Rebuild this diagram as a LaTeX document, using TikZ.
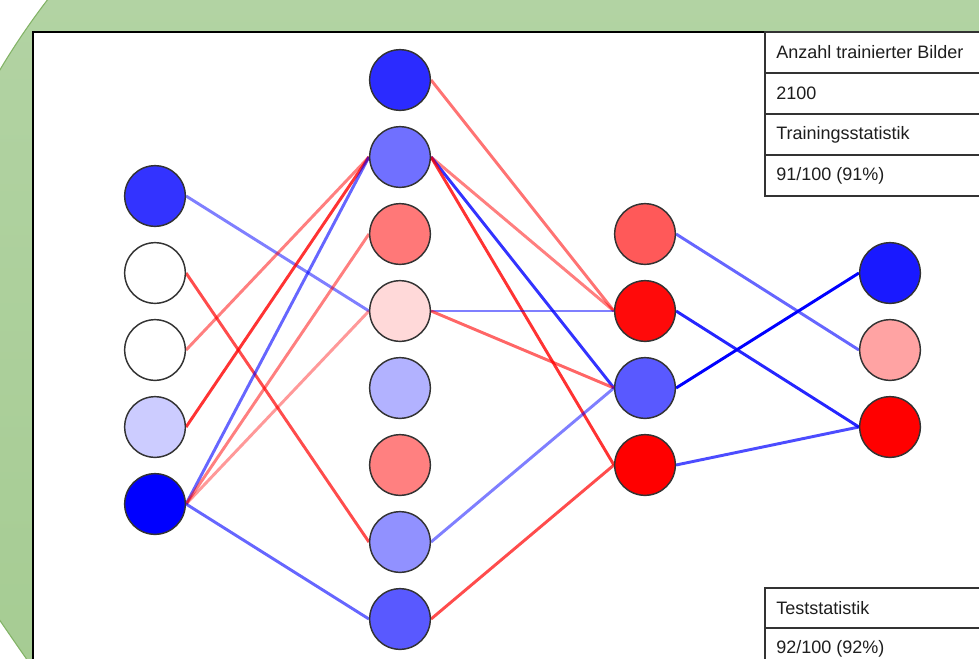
\documentclass[tikz,border=0pt]{standalone}
\usepackage{fontspec}
\newfontfamily\tabfont{Liberation Sans}
\pgfdeclarelayer{bg}
\pgfdeclarelayer{edges}
\pgfsetlayers{bg,edges,main}
\definecolor{greenfill}{HTML}{B2D3A3}
\definecolor{greenfillb}{HTML}{A6CC93}
\definecolor{greenline}{HTML}{82B366}
\definecolor{txt}{HTML}{1E1E1E}
\tikzset{
  neuron/.style={circle, draw=black!80, line width=1.1pt, minimum size=45.5pt, inner sep=0pt},
  wire/.style={line width=2.2pt},
  pos/.style={wire, draw=red, draw opacity=#1},
  neg/.style={wire, draw=blue, draw opacity=#1},
  cell/.style={draw=black!80, line width=1.1pt, fill=white},
  celltext/.style={anchor=west, inner sep=0pt, text=txt, font=\tabfont\fontsize{13.5}{16}\selectfont}
}
\begin{document}
\begin{tikzpicture}[x=0.75pt,y=-0.75pt]
\useasboundingbox (0,0) rectangle (979,658);
\begin{pgfonlayer}{bg}
  \path[draw=greenline, line width=0.8pt, top color=greenfill, bottom color=greenfillb]
    (52,-6) .. controls (30,22) and (10,52) .. (-6,80) -- (-6,612) .. controls (8,632) and (20,650) .. (33,668)
    -- (995,668) -- (995,-6) -- cycle;
  \path[draw=black, line width=1.1pt, fill=white] (33,32) rectangle (1000,700);
\end{pgfonlayer}

% input layer
\node[neuron, fill=blue!80] (i1) at (155,196) {};
\node[neuron, fill=white]   (i2) at (155,273) {};
\node[neuron, fill=white]   (i3) at (155,350) {};
\node[neuron, fill=blue!20] (i4) at (155,427) {};
\node[neuron, fill=blue]    (i5) at (155,504) {};
% hidden 1
\node[neuron, fill=blue!83] (h1) at (400,80) {};
\node[neuron, fill=blue!56] (h2) at (400,157) {};
\node[neuron, fill=red!53]  (h3) at (400,234) {};
\node[neuron, fill=red!15]  (h4) at (400,311) {};
\node[neuron, fill=blue!30] (h5) at (400,388) {};
\node[neuron, fill=red!50]  (h6) at (400,465) {};
\node[neuron, fill=blue!43] (h7) at (400,542) {};
\node[neuron, fill=blue!65] (h8) at (400,619) {};
% hidden 2
\node[neuron, fill=red!65]  (g1) at (645,234) {};
\node[neuron, fill=red!96]  (g2) at (645,311) {};
\node[neuron, fill=blue!65] (g3) at (645,388) {};
\node[neuron, fill=red]     (g4) at (645,465) {};
% output
\node[neuron, fill=blue!90] (o1) at (890,273) {};
\node[neuron, fill=red!36]  (o2) at (890,350) {};
\node[neuron, fill=red]     (o3) at (890,427) {};

\begin{pgfonlayer}{edges}
  \draw[neg=0.5]  (i1.east) -- (h4.west);
  \draw[pos=0.7]  (i2.east) -- (h7.west);
  \draw[pos=0.5]  (i3.east) -- (h2.west);
  \draw[pos=0.8]  (i4.east) -- (h2.west);
  \draw[neg=0.6]  (i5.east) -- (h2.west);
  \draw[pos=0.5]  (i5.east) -- (h3.west);
  \draw[pos=0.4]  (i5.east) -- (h4.west);
  \draw[neg=0.6]  (i5.east) -- (h8.west);

  \draw[pos=0.55] (h1.east) -- (g2.west);
  \draw[pos=0.5]  (h2.east) -- (g2.west);
  \draw[neg=0.8]  (h2.east) -- (g3.west);
  \draw[pos=0.8]  (h2.east) -- (g4.west);
  \draw[neg=0.5]  (h4.east) -- (g2.west);
  \draw[pos=0.6]  (h4.east) -- (g3.west);
  \draw[neg=0.5]  (h7.east) -- (g3.west);
  \draw[pos=0.7]  (h8.east) -- (g4.west);

  \draw[neg=0.6]  (g1.east) -- (o2.west);
  \draw[neg=0.85] (g2.east) -- (o3.west);
  \draw[neg=1]    (g3.east) -- (o1.west);
  \draw[neg=0.7]  (g4.east) -- (o3.west);
\end{pgfonlayer}

% top table
\path[cell] (765,32) rectangle (1000,73);
\path[cell] (765,73) rectangle (1000,114);
\path[cell] (765,114) rectangle (1000,155);
\path[cell] (765,155) rectangle (1000,196);
\node[celltext] (t1) at (776,52.5) {Anzahl trainierter Bilder};
\node[celltext] (t2) at (776,93.5) {2100};
\node[celltext] (t3) at (776,134.5) {Trainingsstatistik};
\node[celltext] (t4) at (776,175.5) {91/100 (91\%)};
% bottom table
\path[cell] (765,588) rectangle (1000,628);
\path[cell] (765,628) rectangle (1000,669);
\node[celltext] (s1) at (776,608) {Teststatistik};
\node[celltext] (s2) at (776,648.5) {92/100 (92\%)};
\end{tikzpicture}
\end{document}
